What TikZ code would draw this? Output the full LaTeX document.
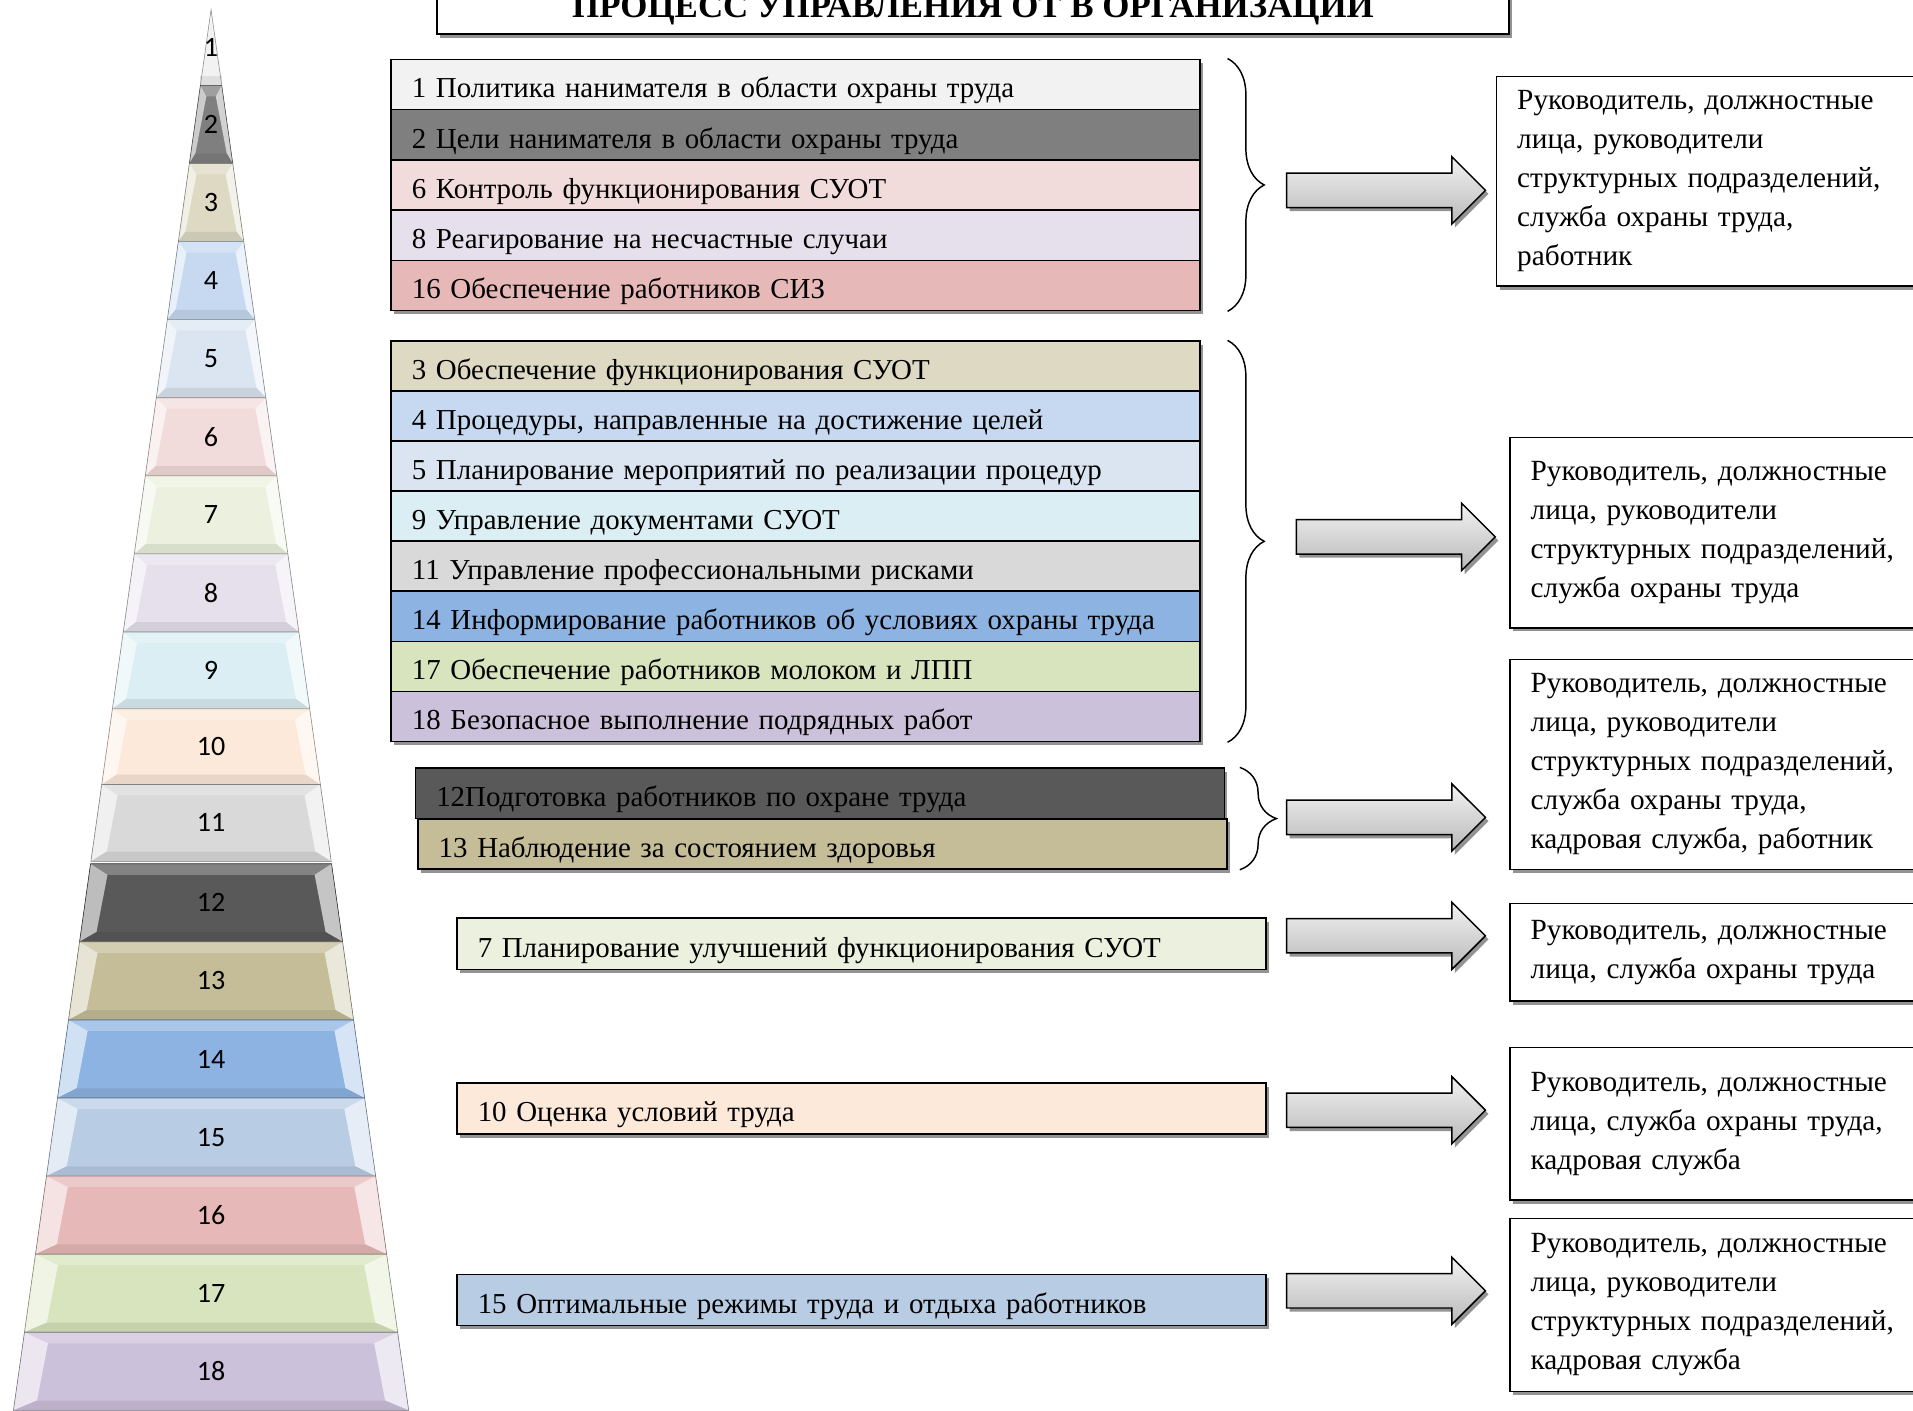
\documentclass[tikz,border=0pt]{standalone}
\usepackage{fontspec}
\setmainfont{Liberation Serif}
\newfontfamily\calibrifont{Carlito}
\usepackage{tikz}
\usepackage{xcolor}
\usetikzlibrary{arrows.meta,calc,shapes.arrows,shadows,decorations.pathreplacing}

\definecolor{c1}{HTML}{F2F2F2}
\definecolor{c2}{HTML}{7F7F7F}
\definecolor{c3}{HTML}{DDD9C3}
\definecolor{c4}{HTML}{C6D9F1}
\definecolor{c5}{HTML}{DBE5F1}
\definecolor{c6}{HTML}{F2DCDB}
\definecolor{c7}{HTML}{EBF1DE}
\definecolor{c8}{HTML}{E5E0EC}
\definecolor{c9}{HTML}{DAEEF3}
\definecolor{c10}{HTML}{FDE9D9}
\definecolor{c11}{HTML}{D9D9D9}
\definecolor{c12}{HTML}{595959}
\definecolor{c13}{HTML}{C4BD97}
\definecolor{c14}{HTML}{8DB3E2}
\definecolor{c15}{HTML}{B8CCE4}
\definecolor{c16}{HTML}{E6B9B8}
\definecolor{c17}{HTML}{D7E4BD}
\definecolor{c18}{HTML}{CCC1DA}

\begin{document}
\begin{tikzpicture}[x=1pt, y=-1pt,
    boxshadow/.style={drop shadow={shadow xshift=2.5pt, shadow yshift=-3pt, fill=black!70, opacity=.6}},
    row/.style={draw, line width=1.2pt, fill=#1, anchor=north west, minimum height=41.2pt, text width=629pt,
        inner xsep=17pt, inner ysep=0pt, align=left, text height=24pt, text depth=2pt,
        font=\fontsize{23.7}{28}\selectfont, boxshadow},
    resp/.style={draw, line width=1.2pt, fill=white, anchor=north west, text width=386pt, inner xsep=17pt,
        align=left, font=\fontsize{24}{32}\selectfont, boxshadow},
    blockarrow/.style={single arrow, draw, line width=1.2pt, minimum height=163pt, inner xsep=0pt, inner ysep=13.5pt,
        single arrow head extend=13.5pt, top color=gray!10, bottom color=gray!55, boxshadow},
    curly/.style={decorate, decoration={brace, amplitude=30pt}, line width=1.2pt},
    lvl/.style={font=\calibrifont\fontsize{23}{23}\selectfont, inner sep=0pt}]
    \path[use as bounding box, fill=white] (0,0) rectangle (1568,1156);

    \foreach \n/\ytop/\ybot/\col in {1/8/70/c1,2/70/134/c2,3/134/198/c3,4/198/262/c4,5/262/326/c5,6/326/390/c6,
        7/390/454/c7,8/454/518/c8,9/518/581/c9,10/581/643/c10,11/643/706/c11,12/708/772/c12,13/772/836/c13,
        14/836/900/c14,15/900/964/c15,16/964/1028/c16,17/1028/1092/c17,18/1092/1156/c18}{
        \pgfmathsetmacro\htop{0.1411*(\ytop-8)}
        \pgfmathsetmacro\hbot{0.1411*(\ybot-8)}
        \pgfmathsetmacro\inset{0.1*\htop+min(4,\htop)}
        \coordinate (tl) at ({173-\htop},\ytop);
        \coordinate (tr) at ({173+\htop},\ytop);
        \coordinate (bl) at ({173-\hbot},\ybot);
        \coordinate (br) at ({173+\hbot},\ybot);
        \coordinate (itl) at ({173-\htop+\inset},{\ytop+9});
        \coordinate (itr) at ({173+\htop-\inset},{\ytop+9});
        \coordinate (ibl) at ({173-\hbot+\inset},{\ybot-8});
        \coordinate (ibr) at ({173+\hbot-\inset},{\ybot-8});
        \fill[\col] (tl) -- (tr) -- (br) -- (bl) -- cycle;
        \fill[\col!75!white] (tl) -- (tr) -- (itr) -- (itl) -- cycle;
        \fill[\col!40!white] (tl) -- (itl) -- (ibl) -- (bl) -- cycle;
        \fill[\col!35!white] (tr) -- (itr) -- (ibr) -- (br) -- cycle;
        \fill[\col!92!black] (bl) -- (br) -- (ibr) -- (ibl) -- cycle;
        \draw[\col!60!black, line width=.5pt] (tl) -- (tr) -- (br) -- (bl) -- cycle;
        \node[lvl] (lvl\n) at (173,{(\ytop+\ybot)/2}) {\n};
    }

    \node[draw, line width=1.2pt, fill=white, minimum width=879pt, minimum height=40pt, boxshadow,
        font=\bfseries\fontsize{28.6}{30}\selectfont] (title) at (797.5,8) {ПРОЦЕСС УПРАВЛЕНИЯ ОТ В ОРГАНИЗАЦИИ};

    \node[row=c1] (e1) at (320,48) {1 Политика нанимателя в области охраны труда};
    \node[row=c2] (e2) at (320,89.2) {2 Цели нанимателя в области охраны труда};
    \node[row=c6] (e6) at (320,130.4) {6 Контроль функционирования СУОТ};
    \node[row=c8] (e8) at (320,171.6) {8 Реагирование на несчастные случаи};
    \node[row=c16] (e16) at (320,212.8) {16 Обеспечение работников СИЗ};

    \node[row=c3] (e3) at (320,279) {3 Обеспечение функционирования СУОТ};
    \node[row=c4] (e4) at (320,320) {4 Процедуры, направленные на достижение целей};
    \node[row=c5] (e5) at (320,361) {5 Планирование мероприятий по реализации процедур};
    \node[row=c9] (e9) at (320,402) {9 Управление документами СУОТ};
    \node[row=c11] (e11) at (320,443) {11 Управление профессиональными рисками};
    \node[row=c14] (e14) at (320,484) {14 Информирование работников об условиях охраны труда};
    \node[row=c17] (e17) at (320,525) {17 Обеспечение работников молоком и ЛПП};
    \node[row=c18] (e18) at (320,566) {18 Безопасное выполнение подрядных работ};

    \node[row=c12] (e12) at (340,629) {12Подготовка работников по охране труда};
    \node[row=c13] (e13) at (342,670.5) {13 Наблюдение за состоянием здоровья};

    \node[row=c7, minimum height=42pt] (e7) at (374,752) {7 Планирование улучшений функционирования СУОТ};
    \node[row=c10, minimum height=42pt] (e10) at (374,887) {10 Оценка условий труда};
    \node[row=c15, minimum height=42pt] (e15) at (374,1044) {15 Оптимальные режимы труда и отдыха работников};

    \draw[curly] ($(e1.north east)+(22,0)$) -- ($(e16.south east)+(22,0)$);
    \draw[curly] ($(e3.north east)+(22,0)$) -- ($(e18.south east)+(22,0)$);
    \draw[curly] ($(e12.north east)+(12,0)$) -- ($(e12.north east |- e13.south)+(12,0)$);

    \node[blockarrow] (arr1) at (1129,156) {};
    \node[blockarrow] (arr2) at (1137,440) {};
    \node[blockarrow] (arr3) at (1129,670) {};
    \node[blockarrow] (arr4) at (1129,767) {};
    \node[blockarrow] (arr5) at (1129,910) {};
    \node[blockarrow] (arr6) at (1129,1058) {};

    \node[resp, minimum height=172pt] (resp1) at (1226,62) {Руководитель, должностные\\лица, руководители\\структурных подразделений,\\служба охраны труда,\\работник};
    \node[resp, minimum height=156pt] (resp2) at (1237,358) {Руководитель, должностные\\лица, руководители\\структурных подразделений,\\служба охраны труда};
    \node[resp, minimum height=172pt] (resp3) at (1237,540) {Руководитель, должностные\\лица, руководители\\структурных подразделений,\\служба охраны труда,\\кадровая служба, работник};
    \node[resp, minimum height=80pt] (resp4) at (1237,740) {Руководитель, должностные\\лица, служба охраны труда};
    \node[resp, minimum height=125pt] (resp5) at (1237,858) {Руководитель, должностные\\лица, служба охраны труда,\\кадровая служба};
    \node[resp, minimum height=142pt] (resp6) at (1237,998) {Руководитель, должностные\\лица, руководители\\структурных подразделений,\\кадровая служба};
\end{tikzpicture}
\end{document}
